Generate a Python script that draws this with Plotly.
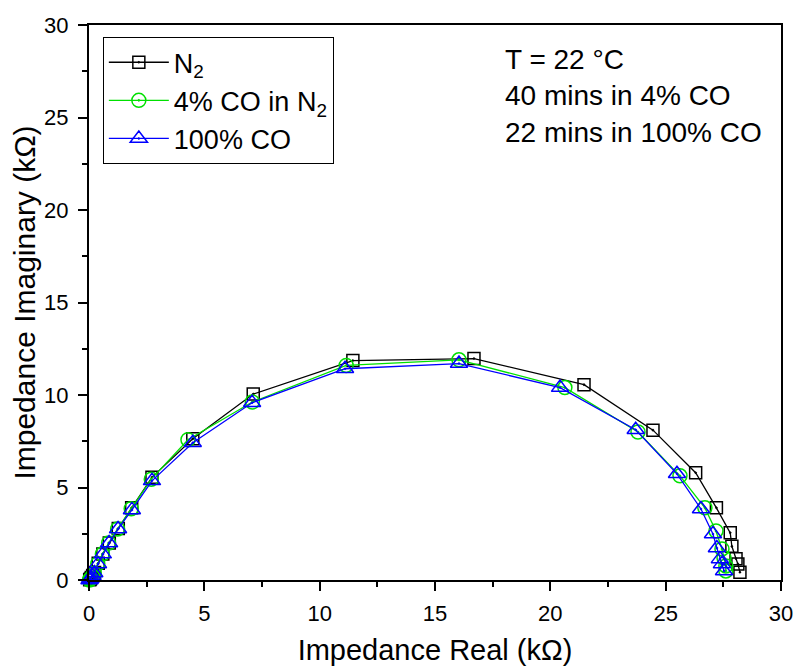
import plotly.graph_objects as go

# N2 (black squares)
n2_x = [0.03, 0.06, 0.10, 0.16, 0.24, 0.40, 0.60, 0.88, 1.27, 1.85, 2.73, 4.50, 7.12,
        11.44, 16.69, 21.46, 24.45, 26.30, 27.20, 27.80, 27.87, 28.05, 28.13, 28.22]
n2_y = [0.02, 0.06, 0.13, 0.24, 0.40, 0.90, 1.40, 2.00, 2.78, 3.90, 5.55, 7.63, 10.05,
        11.86, 11.97, 10.56, 8.10, 5.80, 3.90, 2.55, 1.82, 1.15, 0.87, 0.42]

# 4% CO in N2 (green circles)
co4_x = [0.02, 0.05, 0.09, 0.15, 0.23, 0.38, 0.58, 0.85, 1.24, 1.83, 2.70, 4.29, 7.08,
         11.15, 16.04, 20.63, 23.80, 25.62, 26.70, 27.18, 27.44, 27.53, 27.61, 27.61]
co4_y = [0.00, 0.04, 0.10, 0.20, 0.36, 0.88, 1.40, 2.00, 2.76, 3.85, 5.45, 7.58, 9.62,
         11.60, 11.90, 10.40, 8.00, 5.63, 3.90, 2.65, 1.68, 1.19, 0.76, 0.49]

# 100% CO (blue triangles)
co100_x = [0.02, 0.05, 0.09, 0.15, 0.23, 0.39, 0.60, 0.87, 1.26, 1.86, 2.73, 4.50, 7.07,
           11.10, 16.04, 20.42, 23.70, 25.49, 26.53, 27.05, 27.22, 27.35, 27.44, 27.53]
co100_y = [0.00, 0.05, 0.12, 0.22, 0.38, 0.87, 1.40, 2.00, 2.76, 3.79, 5.36, 7.42, 9.58,
           11.42, 11.70, 10.40, 8.12, 5.74, 3.84, 2.49, 1.73, 1.14, 0.87, 0.49]

series_names = ["N<sub>2</sub>", "4% CO in N<sub>2</sub>", "100% CO"]
series_colors = ["#000000", "#00E000", "#0000FF"]
series_symbols = ["square-open-dot", "circle-open-dot", "triangle-up-open-dot"]
series_sizes = [12, 14, 15]

x_ticks = [0, 5, 10, 15, 20, 25, 30]
y_ticks = [0, 5, 10, 15, 20, 25, 30]

FONT = "Liberation Sans, Arial, sans-serif"

fig = go.Figure()
for xs, ys, name, color, sym, sz in zip(
    [n2_x, co4_x, co100_x], [n2_y, co4_y, co100_y],
    series_names, series_colors, series_symbols, series_sizes):
    fig.add_trace(go.Scatter(
        x=xs, y=ys, name=name, mode="lines+markers",
        line=dict(color=color, width=1.3),
        marker=dict(symbol=sym, size=sz, color=color, line=dict(color=color, width=1.5)),
        cliponaxis=False,
    ))

axis_common = dict(
    range=[0, 30], showgrid=False, zeroline=False, automargin=False,
    showline=True, linecolor="black", linewidth=2, mirror=True,
    ticks="outside", ticklen=9, tickwidth=2, tickcolor="black",
    tickfont=dict(family=FONT, size=22, color="black"),
    minor=dict(ticks="outside", ticklen=5, tickwidth=1.5, dtick=2.5, tickcolor="black"),
)

fig.update_layout(
    width=795, height=670,
    margin=dict(l=89, r=14, t=25, b=90),
    paper_bgcolor="white", plot_bgcolor="white",
    font=dict(family=FONT, color="black"),
    xaxis=dict(**axis_common, tickvals=x_ticks, ticklabelstandoff=4,
               title=dict(text="Impedance Real (kΩ)", font=dict(family=FONT, size=29), standoff=14)),
    yaxis=dict(**axis_common, tickvals=y_ticks, ticklabelstandoff=5,
               title=dict(text="Impedance Imaginary (kΩ)", font=dict(family=FONT, size=30), standoff=0)),
    legend=dict(x=0.02, y=0.978, xanchor="left", yanchor="top",
                bgcolor="white", bordercolor="black", borderwidth=1,
                font=dict(family=FONT, size=27), itemwidth=60, tracegroupgap=0),
    showlegend=True,
)

fig.add_annotation(
    x=0.598, y=0.970, xref="paper", yref="paper", xanchor="left", yanchor="top",
    text="T = 22 °C<br>40 mins in 4% CO<br>22 mins in 100% CO",
    showarrow=False, align="left",
    font=dict(family=FONT, size=28, color="black"),
)

fig.write_html("out.html")
